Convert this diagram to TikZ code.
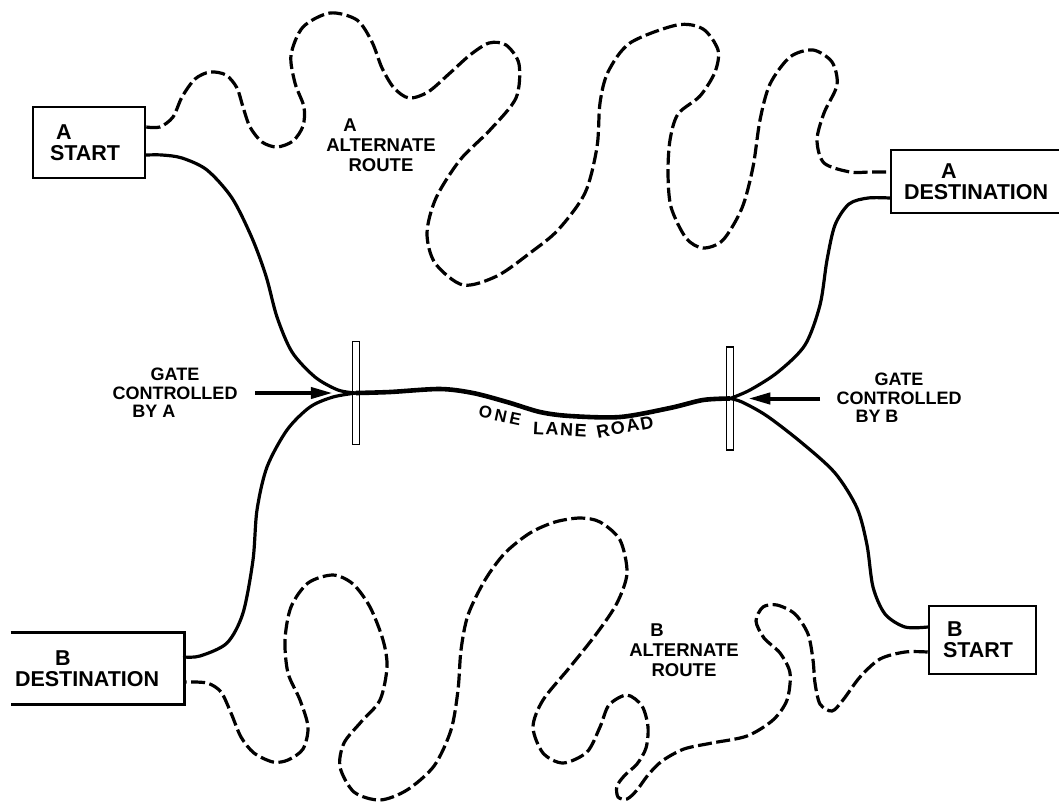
\documentclass[tikz,border=0pt]{standalone}
\usepackage{fontspec}
\setmainfont{Liberation Sans}
\usetikzlibrary{arrows.meta}
\newcommand\bxfont{\fontsize{21.5}{21}\selectfont\bfseries}
\newcommand\lbfont{\fontsize{18}{18.5}\selectfont\bfseries}
\newcommand\alfont{\fontsize{18.5}{20}\selectfont\bfseries}
\newcommand\rdfont{\fontsize{18}{18}\selectfont\bfseries}
\begin{document}
\begin{tikzpicture}[x=1pt,y=-1pt,
  boxnode/.style={line width=2.6pt, inner ysep=0pt, align=left, font=\bxfont},
  boxline/.style={line width=2.6pt},
  wayline/.style={line width=3.2pt, line cap=round},
  altroute/.style={line width=3.2pt, dash pattern=on 14pt off 4.5pt},
  roadline/.style={line width=4.6pt},
  gatebar/.style={draw, fill=white, line width=1.5pt, minimum width=7pt, minimum height=103pt, inner sep=0pt},
  gatearrow/.style={line width=4pt, -{Triangle[length=22pt,width=11pt]}},
  lbl/.style={align=center, font=\lbfont, inner sep=0pt},
  altlbl/.style={align=center, font=\alfont, inner sep=0pt},
  rdword/.style={font=\rdfont, inner sep=0pt}]

\useasboundingbox (0,0) rectangle (1059,804);
\fill[white] (0,0) rectangle (1059,804);
\clip (0,0) rectangle (1059,804);

% boxes
\node[boxnode, draw, text width=78pt, inner xsep=17pt, minimum height=71pt] (astart) at (89,142.5) {\rule{6pt}{0pt}A\\START};
\node[boxnode, draw, text width=151pt, inner xsep=13pt, minimum height=63pt] (adest) at (979.5,181.5) {\rule{37pt}{0pt}A\\DESTINATION};
\node[boxnode, text width=165pt, inner xsep=3pt, minimum height=69pt] (bdest) at (97.5,668.5) {\rule{40pt}{0pt}B\\DESTINATION};
\draw[boxline] (bdest.north west) -- (bdest.north east) -- (bdest.south east) -- (bdest.south west);
\node[boxnode, draw, text width=79pt, inner xsep=14pt, minimum height=68pt] (bstart) at (982.5,640) {\rule{4pt}{0pt}B\\START};

% gates
\node[gatebar] (gA) at (356,393) {};
\node[gatebar] (gB) at (730,398.5) {};

% labels
\node[lbl] (lblA) at (175,393) {GATE\\CONTROLLED\\BY A\rule{42pt}{0pt}};
\node[lbl] (lblB) at (899,398) {GATE\\CONTROLLED\\BY B\rule{44pt}{0pt}};
\node[altlbl] (altA) at (381,145) {A\rule{62pt}{0pt}\\ALTERNATE\\ROUTE};
\node[altlbl] (altB) at (684,650) {B\rule{54pt}{0pt}\\ALTERNATE\\ROUTE};

% connection points
\coordinate (asD) at (astart.east |- 0,127);
\coordinate (asS) at (astart.east |- 0,155);
\coordinate (adD) at (adest.west |- 0,172);
\coordinate (adS) at (adest.west |- 0,198);
\coordinate (bdS) at (bdest.east |- 0,657);
\coordinate (bdD) at (bdest.east |- 0,682);
\coordinate (bsS) at (bstart.west |- 0,627);
\coordinate (bsD) at (bstart.west |- 0,652);
\coordinate (arAs) at (255,393);
\coordinate (arBs) at (820,398.5);

% A alternate route
\draw[altroute] plot[smooth] coordinates {(asD) (160,127) (173,117) (182,97) (195,79) (210,72) (226,75) (237,88) (243,107) (250,127) (262,142) (277,147) (293,141) (303,126) (304,107) (295,83) (291,55) (303,27) (330,13) (357,20) (372,42) (382,68) (394,88) (409,98) (428,92) (450,73) (470,55) (489,43) (506,45) (519,64) (516,98) (490,130) (460,160) (436,198) (427,233) (435,263) (463,285) (497,276) (530,253) (558,230) (585,193) (597,147) (600,103) (608,72) (630,43) (677,25) (703,29) (718,50) (715,72) (700,96) (678,114) (670,140) (668,173) (671,207) (686,238) (703,248) (723,240) (742,208) (753,167) (760,120) (770,84) (790,57) (813,50) (832,62) (837,85) (824,113) (817,140) (824,163) (850,172) (870,172) (adD)};

% B alternate route
\draw[altroute] plot[smooth] coordinates {(bsD) (905,652) (880,659) (860,677) (843,700) (832,711) (820,704) (815,683) (813,660) (808,634) (795,614) (777,605) (763,607) (756,621) (764,638) (780,653) (790,673) (787,700) (773,720) (747,736) (712,743) (684,749) (662,761) (648,775) (637,790) (627,799) (618,797) (617,786) (625,775) (637,764) (646,748) (648,727) (642,706) (627,695) (609,705) (600,727) (587,752) (563,763) (543,753) (533,727) (543,700) (570,667) (597,633) (617,603) (627,573) (620,540) (600,522) (580,518) (555,522) (530,533) (505,553) (485,580) (468,615) (461,650) (458,690) (451,730) (434,766) (407,790) (380,800) (354,792) (340,767) (344,743) (361,722) (380,700) (387,667) (383,640) (370,607) (353,584) (333,575) (308,583) (291,607) (285,640) (288,673) (300,700) (308,727) (303,749) (288,760) (273,762) (254,753) (241,737) (231,713) (221,692) (207,683) (bdD)};

% solid roads to the gates
\draw[wayline] plot[smooth] coordinates {(asS) (162,155) (182,158) (207,170) (232,198) (252,238) (266,276) (277,317) (292,352) (315,377) (338,390) (gA.center)};
\draw[wayline] plot[smooth] coordinates {(adS) (868,198) (849,204) (835,225) (827,260) (820,305) (805,345) (778,372) (750,390) (gB.center)};
\draw[wayline] plot[smooth] coordinates {(bdS) (200,656) (227,643) (243,613) (253,560) (257,510) (267,467) (287,430) (310,407) (333,397) (gA.center)};
\draw[wayline] plot[smooth] coordinates {(bsS) (905,627) (885,614) (873,587) (867,545) (857,508) (835,473) (802,443) (767,416) (742,402) (gB.center)};

% one lane road
\draw[roadline] plot[smooth] coordinates {(gA.center) (390,392) (440,389) (473,393) (507,402) (540,412) (570,416) (620,417) (670,408) (703,400) (gB.center)};
\node[rdword, rotate=-12, font=\fontsize{17}{17}\selectfont\bfseries] (rdOne) at (500,415.5) {O\kern3pt N\kern3pt E};
\node[rdword, rotate=-3] (rdLane) at (560,429.5) {L\kern1.5pt A\kern1.5pt N\kern1.5pt E};
\node[rdword, rotate=11] (rdRoad) at (625,427) {R\kern1.5pt O\kern1.5pt A\kern1.5pt D};

% gate arrows
\draw[gatearrow, shorten >=19pt] (arAs) -- (gA.west);
\draw[gatearrow, shorten >=14pt] (arBs) -- (gB.east);
\end{tikzpicture}
\end{document}
